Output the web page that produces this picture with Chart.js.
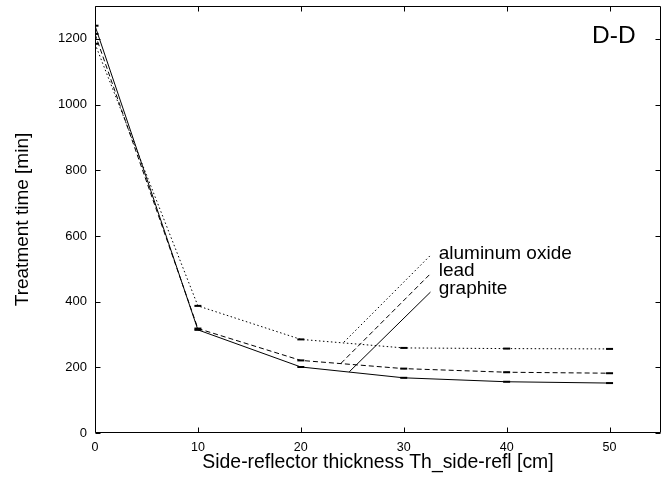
<!DOCTYPE html>
<html>
<head>
<meta charset="utf-8">
<script src="https://cdn.jsdelivr.net/npm/chart.js@4"></script>
<style>
  html, body { margin: 0; padding: 0; background: #fff; }
  #wrap { width: 667px; height: 478px; }
</style>
</head>
<body>
<div id="wrap"><canvas id="c" width="667" height="478"></canvas></div>
<script>
// ---- data ----
const thickness = [0, 10, 20, 30, 40, 50];
const graphite = [1240, 314, 201, 168, 156, 152];
const lead = [1215, 318, 221, 196, 185, 182];
const aluminumOxide = [1185, 387, 285, 259, 257, 256];
const seriesNames = ['graphite', 'lead', 'aluminum oxide'];

const xTicks = [0, 10, 20, 30, 40, 50];
const yTicks = [0, 200, 400, 600, 800, 1000, 1200];

// leader lines (data coordinates) from the curves to the labels
const leaderGraphiteX = [24.7, 32.6];
const leaderGraphiteY = [186, 429];
const leaderLeadX = [23.9, 32.6];
const leaderLeadY = [212, 485];
const leaderAluminumX = [24.2, 32.6];
const leaderAluminumY = [277, 541];

// label anchors (data coordinates)
const labelX = [33.4, 33.4, 33.4];
const labelY = [439.5, 493, 546];
const panelTitle = 'D-D';
const panelTitleX = 48.3;
const panelTitleY = 1209;

const FONT = '"Liberation Sans", Arial, Helvetica, sans-serif';

function pts(xs, ys) { return xs.map((x, i) => ({ x: x, y: ys[i] })); }

const styles = [
  { dash: [] },
  { dash: [5, 3] },
  { dash: [1.5, 2.5] }
];
const seriesData = [graphite, lead, aluminumOxide];
const leaders = [
  [leaderGraphiteX, leaderGraphiteY],
  [leaderLeadX, leaderLeadY],
  [leaderAluminumX, leaderAluminumY]
];

const datasets = [];
seriesData.forEach((vals, i) => {
  datasets.push({
    label: seriesNames[i],
    data: pts(thickness, vals),
    borderColor: '#000',
    backgroundColor: '#000',
    borderWidth: 1,
    borderDash: styles[i].dash,
    pointStyle: 'line',
    pointRadius: 3.5,
    pointBorderWidth: 2,
    pointBorderColor: '#000',
    tension: 0,
    fill: false
  });
});
leaders.forEach((l, i) => {
  datasets.push({
    label: seriesNames[i] + ' leader',
    data: pts(l[0], l[1]),
    borderColor: '#000',
    borderWidth: 1,
    borderDash: styles[i].dash,
    pointRadius: 0,
    tension: 0,
    fill: false
  });
});

const frame = {
  id: 'frame',
  afterDatasetsDraw(chart) {
    const { ctx, chartArea: a, scales } = chart;
    const L = Math.round(a.left) + 0.5, R = Math.round(a.right) - 0.5;
    const T = Math.round(a.top) + 0.5, B = Math.round(a.bottom) - 0.5;
    ctx.save();
    ctx.strokeStyle = '#000';
    ctx.lineWidth = 1;
    ctx.setLineDash([]);
    ctx.beginPath();
    ctx.rect(L, T, R - L, B - T);
    const tl = 5;
    xTicks.forEach(v => {
      const px = Math.round(scales.x.getPixelForValue(v)) + 0.5;
      ctx.moveTo(px, B); ctx.lineTo(px, B - tl);
      ctx.moveTo(px, T); ctx.lineTo(px, T + tl);
    });
    yTicks.forEach(v => {
      const py = Math.round(scales.y.getPixelForValue(v)) + 0.5;
      ctx.moveTo(L, py); ctx.lineTo(L + tl, py);
      ctx.moveTo(R, py); ctx.lineTo(R - tl, py);
    });
    ctx.stroke();

    // labels
    ctx.fillStyle = '#000';
    ctx.textBaseline = 'middle';
    ctx.textAlign = 'left';
    ctx.font = '19px ' + FONT;
    seriesNames.forEach((n, i) => {
      ctx.fillText(n, scales.x.getPixelForValue(labelX[i]), scales.y.getPixelForValue(labelY[i]));
    });
    ctx.font = '24.5px ' + FONT;
    ctx.fillText(panelTitle, scales.x.getPixelForValue(panelTitleX), scales.y.getPixelForValue(panelTitleY));
    ctx.restore();
  }
};

new Chart(document.getElementById('c'), {
  type: 'line',
  data: { datasets: datasets },
  options: {
    responsive: false,
    animation: false,
    devicePixelRatio: 1,
    layout: { padding: { left: 0, right: 5, top: 5, bottom: 0 } },
    plugins: { legend: { display: false }, tooltip: { enabled: false } },
    scales: {
      x: {
        type: 'linear',
        min: 0, max: 55,
        grid: { display: false, drawTicks: false },
        border: { display: false },
        ticks: {
          stepSize: 10, includeBounds: false, padding: 7,
          color: '#000', font: { family: FONT, size: 12.5 },
          maxRotation: 0,
          callback: v => String(v)
        },
        title: {
          display: true, text: 'Side-reflector thickness Th_side-refl [cm]',
          color: '#000', font: { family: FONT, size: 19.4 },
          padding: { top: 0, bottom: 4 }
        },
        afterFit(s) { s.height = 45; s.paddingLeft = 0; s.paddingRight = 0; }
      },
      y: {
        type: 'linear',
        min: 0, max: 1300,
        grid: { display: false, drawTicks: false },
        border: { display: false },
        ticks: {
          stepSize: 200, includeBounds: false, padding: 8,
          color: '#000', font: { family: FONT, size: 13 },
          callback: v => String(v)
        },
        title: {
          display: true, text: 'Treatment time [min]',
          color: '#000', font: { family: FONT, size: 19 },
          padding: { top: 11, bottom: 0 }
        },
        afterFit(s) { s.width = 95; s.paddingTop = 0; s.paddingBottom = 0; }
      }
    }
  },
  plugins: [frame]
});
</script>
</body>
</html>
